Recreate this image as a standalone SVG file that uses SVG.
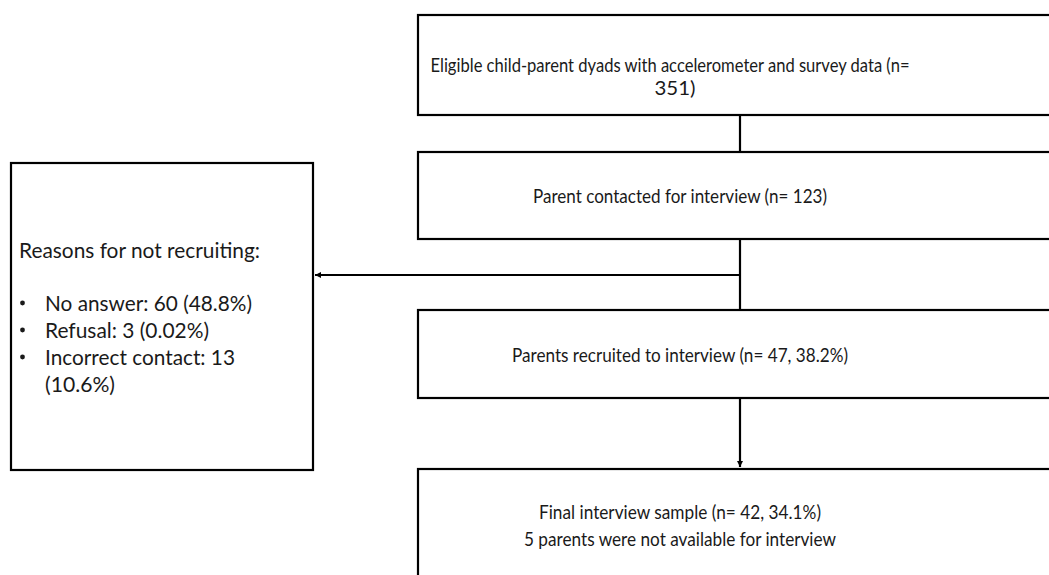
<svg xmlns="http://www.w3.org/2000/svg" width="1049" height="575" viewBox="0 0 1049 575">
<style>
.box{fill:#fff;stroke:#000;stroke-width:2.2}
.t{font-family:Lato,"Open Sans","Liberation Sans",sans-serif;font-size:20px;fill:#1a1a1a}
.l{font-size:21.5px}
.c{text-anchor:middle}
.conn{stroke:#000;stroke-width:2.2;fill:none}
</style>
<defs>
<marker id="ah" markerWidth="8" markerHeight="8" refX="6" refY="3" orient="auto" markerUnits="userSpaceOnUse">
<path d="M0,0 L6,3 L0,6 Z" fill="#000"/>
</marker>
</defs>
<rect width="1049" height="575" fill="#fff"/>
<g id="connectors">
<line class="conn" x1="740" y1="115" x2="740" y2="152"/>
<line class="conn" x1="740" y1="239" x2="740" y2="310"/>
<line class="conn" x1="740" y1="275" x2="315" y2="275" marker-end="url(#ah)"/>
<line class="conn" x1="740" y1="398" x2="740" y2="467" marker-end="url(#ah)"/>
</g>
<g id="node-eligible">
<rect class="box" x="418" y="15" width="700" height="100"/>
<text class="t c" x="670" y="72" textLength="479" lengthAdjust="spacingAndGlyphs">Eligible child-parent dyads with accelerometer and survey data (n=</text>
<text class="t c" x="675" y="95" textLength="41" lengthAdjust="spacingAndGlyphs">351)</text>
</g>
<g id="node-contacted">
<rect class="box" x="418" y="152" width="700" height="87"/>
<text class="t c" x="680" y="203" textLength="294" lengthAdjust="spacingAndGlyphs">Parent contacted for interview (n= 123)</text>
</g>
<g id="node-recruited">
<rect class="box" x="418" y="310" width="700" height="88"/>
<text class="t c" x="680" y="362" textLength="336" lengthAdjust="spacingAndGlyphs">Parents recruited to interview (n= 47, 38.2%)</text>
</g>
<g id="node-final">
<rect class="box" x="418" y="469" width="700" height="140"/>
<text class="t c" x="680" y="519" textLength="282" lengthAdjust="spacingAndGlyphs">Final interview sample (n= 42, 34.1%)</text>
<text class="t c" x="680" y="546" textLength="312" lengthAdjust="spacingAndGlyphs">5 parents were not available for interview</text>
</g>
<g id="node-reasons">
<rect class="box" x="11" y="163" width="302" height="307"/>
<text class="t l" x="19" y="258" textLength="241" lengthAdjust="spacingAndGlyphs">Reasons for not recruiting:</text>
<circle cx="22.5" cy="303" r="2.4" fill="#1a1a1a"/>
<circle cx="22.5" cy="330" r="2.4" fill="#1a1a1a"/>
<circle cx="22.5" cy="357" r="2.4" fill="#1a1a1a"/>
<text class="t l" x="45" y="311" textLength="207" lengthAdjust="spacingAndGlyphs">No answer: 60 (48.8%)</text>
<text class="t l" x="45" y="338" textLength="164" lengthAdjust="spacingAndGlyphs">Refusal: 3 (0.02%)</text>
<text class="t l" x="45" y="365" textLength="190" lengthAdjust="spacingAndGlyphs">Incorrect contact: 13</text>
<text class="t l" x="45" y="392" textLength="70" lengthAdjust="spacingAndGlyphs">(10.6%)</text>
</g>
</svg>
